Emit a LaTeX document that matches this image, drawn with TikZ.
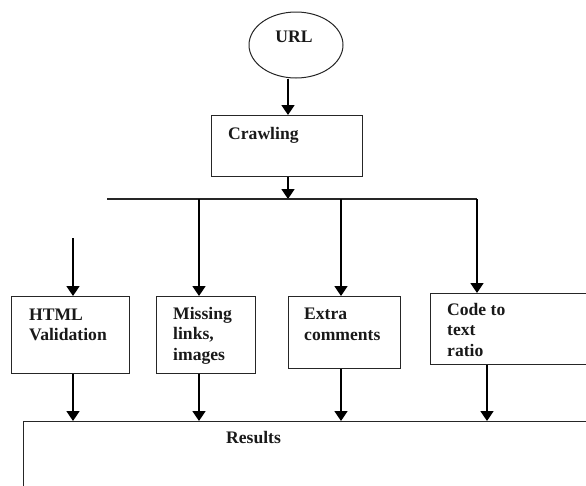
\documentclass[tikz,border=0pt]{standalone}
\usepackage{fontspec}
\setmainfont{Liberation Serif}
\usetikzlibrary{arrows.meta,shapes.geometric}
\begin{document}
\begin{tikzpicture}[x=1pt,y=-1pt,
  box/.style={draw=black!85, line width=1pt, rectangle, inner sep=0pt, anchor=north west},
  lbl/.style={font=\fontsize{17.6}{20.5}\selectfont\bfseries, align=left, inner sep=0pt, anchor=base west, text=black!90},
  arr/.style={draw=black, line width=1.7pt, -{Triangle[width=13pt,length=10pt]}},
  bus/.style={draw=black!85, line width=1.3pt}]
\useasboundingbox (0,0) rectangle (586,485);
\clip (0,0) rectangle (586,485);

% start and crawler
\node[draw=black!85, line width=1pt, ellipse, minimum width=94pt, minimum height=66pt, inner sep=0pt] (url) at (296,45) {};
\node[lbl, anchor=base] (urlT) at (294,42) {URL};
\node[box, minimum width=151pt, minimum height=61pt] (crawl) at (211,115) {};
\node[lbl] (crawlT) at (228,139) {Crawling};

% distribution bus
\coordinate (bus) at (288,199);
\coordinate (busL) at (107,199);
\coordinate (b2) at (199,199);
\coordinate (b3) at (341,199);
\coordinate (busR) at (477,199);
\coordinate (htmlIn) at (73,238);
\coordinate (o4) at (487,364);

% check boxes (labels placed by the baseline of their last line)
\node[box, minimum width=118pt, minimum height=77pt] (html) at (11,296) {};
\node[lbl] (htmlT) at (29,340.5) {HTML\\Validation};
\node[box, minimum width=99pt, minimum height=77pt] (miss) at (156,296) {};
\node[lbl] (missT) at (173,360) {Missing\\links,\\images};
\node[box, minimum width=112pt, minimum height=72pt] (extra) at (288,296) {};
\node[lbl] (extraT) at (304,340) {Extra\\comments};
\node[box, minimum width=170pt, minimum height=71pt] (code) at (430,293) {};
\node[lbl] (codeT) at (447,356) {Code to\\text\\ratio};

% results
\node[box, minimum width=600pt, minimum height=100pt] (res) at (23,421) {};
\node[lbl] (resT) at (226,443) {Results};

% connectors
\draw[arr] (url.south -| bus) -- (crawl.north -| bus);
\draw[arr] (crawl.south -| bus) -- (bus);
\draw[bus] (busL) -- (busR);
\draw[arr] (htmlIn) -- (html.north -| htmlIn);
\draw[arr] (b2) -- (miss.north -| b2);
\draw[arr] (b3) -- (extra.north -| b3);
\draw[arr] (busR) -- (code.north -| busR);

\draw[arr] (html.south -| htmlIn) -- (res.north -| htmlIn);
\draw[arr] (miss.south -| b2) -- (res.north -| b2);
\draw[arr] (extra.south -| b3) -- (res.north -| b3);
\draw[arr] (code.south -| o4) -- (res.north -| o4);
\end{tikzpicture}
\end{document}
